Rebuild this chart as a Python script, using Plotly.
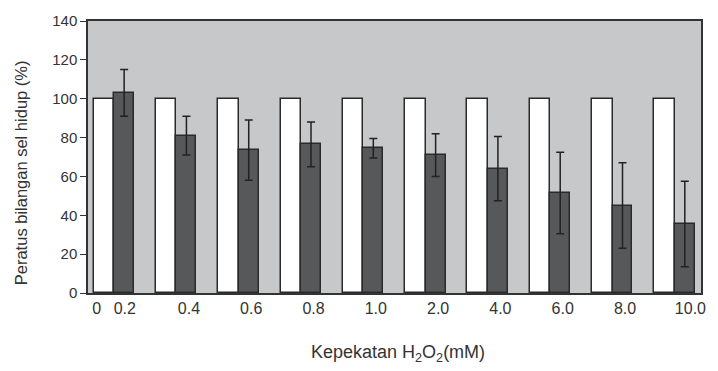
import plotly.graph_objects as go

groups = list(range(10))
control = [100, 100, 100, 100, 100, 100, 100, 100, 100, 100]
treated = [103, 81, 73.5, 76.5, 74.5, 71, 64, 51.5, 45, 35.5]
treated_err = [12, 10, 15.5, 11.5, 5, 11, 16.5, 21, 22, 22]
tick_pos = [-0.28, 0.17, 1.2, 2.2, 3.2, 4.2, 5.2, 6.2, 7.2, 8.2, 9.25]
tick_text = ["0", "0.2", "0.4", "0.6", "0.8", "1.0", "2.0", "4.0", "6.0", "8.0", "10.0"]
x_title = "Kepekatan H<sub>2</sub>O<sub>2</sub>(mM)"
y_title = "Peratus bilangan sel hidup (%)"

fig = go.Figure()
fig.add_trace(go.Bar(
    x=groups, y=control, width=0.33, offset=-0.33,
    marker=dict(color="white", line=dict(color="#2a2a2a", width=1.5)),
    showlegend=False,
))
fig.add_trace(go.Bar(
    x=groups, y=treated, width=0.32, offset=0.0,
    marker=dict(color="#56585a", line=dict(color="#2a2a2a", width=1.5)),
    error_y=dict(type="data", array=treated_err, color="#222222", thickness=1.5, width=4),
    showlegend=False,
))

fig.update_layout(
    width=718, height=371,
    margin=dict(l=88, r=12, t=15, b=78),
    paper_bgcolor="white",
    plot_bgcolor="#c7c8ca",
    font=dict(family="Liberation Sans, Arial, sans-serif", size=15, color="#333333"),
    bargap=0,
)
fig.update_xaxes(
    range=[-0.42, 9.42],
    tickmode="array", tickvals=tick_pos, ticktext=tick_text,
    showgrid=False, zeroline=False,
    showline=True, linecolor="#333333", linewidth=1.5, mirror=True,
    ticks="", tickfont=dict(size=16),
)
fig.update_yaxes(
    range=[0, 140], dtick=20,
    showgrid=False, zeroline=False,
    showline=True, linecolor="#333333", linewidth=1.5, mirror=True,
    ticks="outside", ticklen=6, tickcolor="#333333",
    tickfont=dict(size=15),
)
fig.add_annotation(
    text=x_title, xref="paper", yref="paper", x=0.5065, y=-0.223,
    xanchor="center", yanchor="middle", showarrow=False,
    font=dict(size=18, color="#333333"),
)
fig.add_annotation(
    text=y_title, xref="paper", yref="paper", x=-0.110, y=0.4424,
    xanchor="center", yanchor="middle", showarrow=False, textangle=-90,
    font=dict(size=16.5, color="#333333"),
)

fig.write_html("out.html")
